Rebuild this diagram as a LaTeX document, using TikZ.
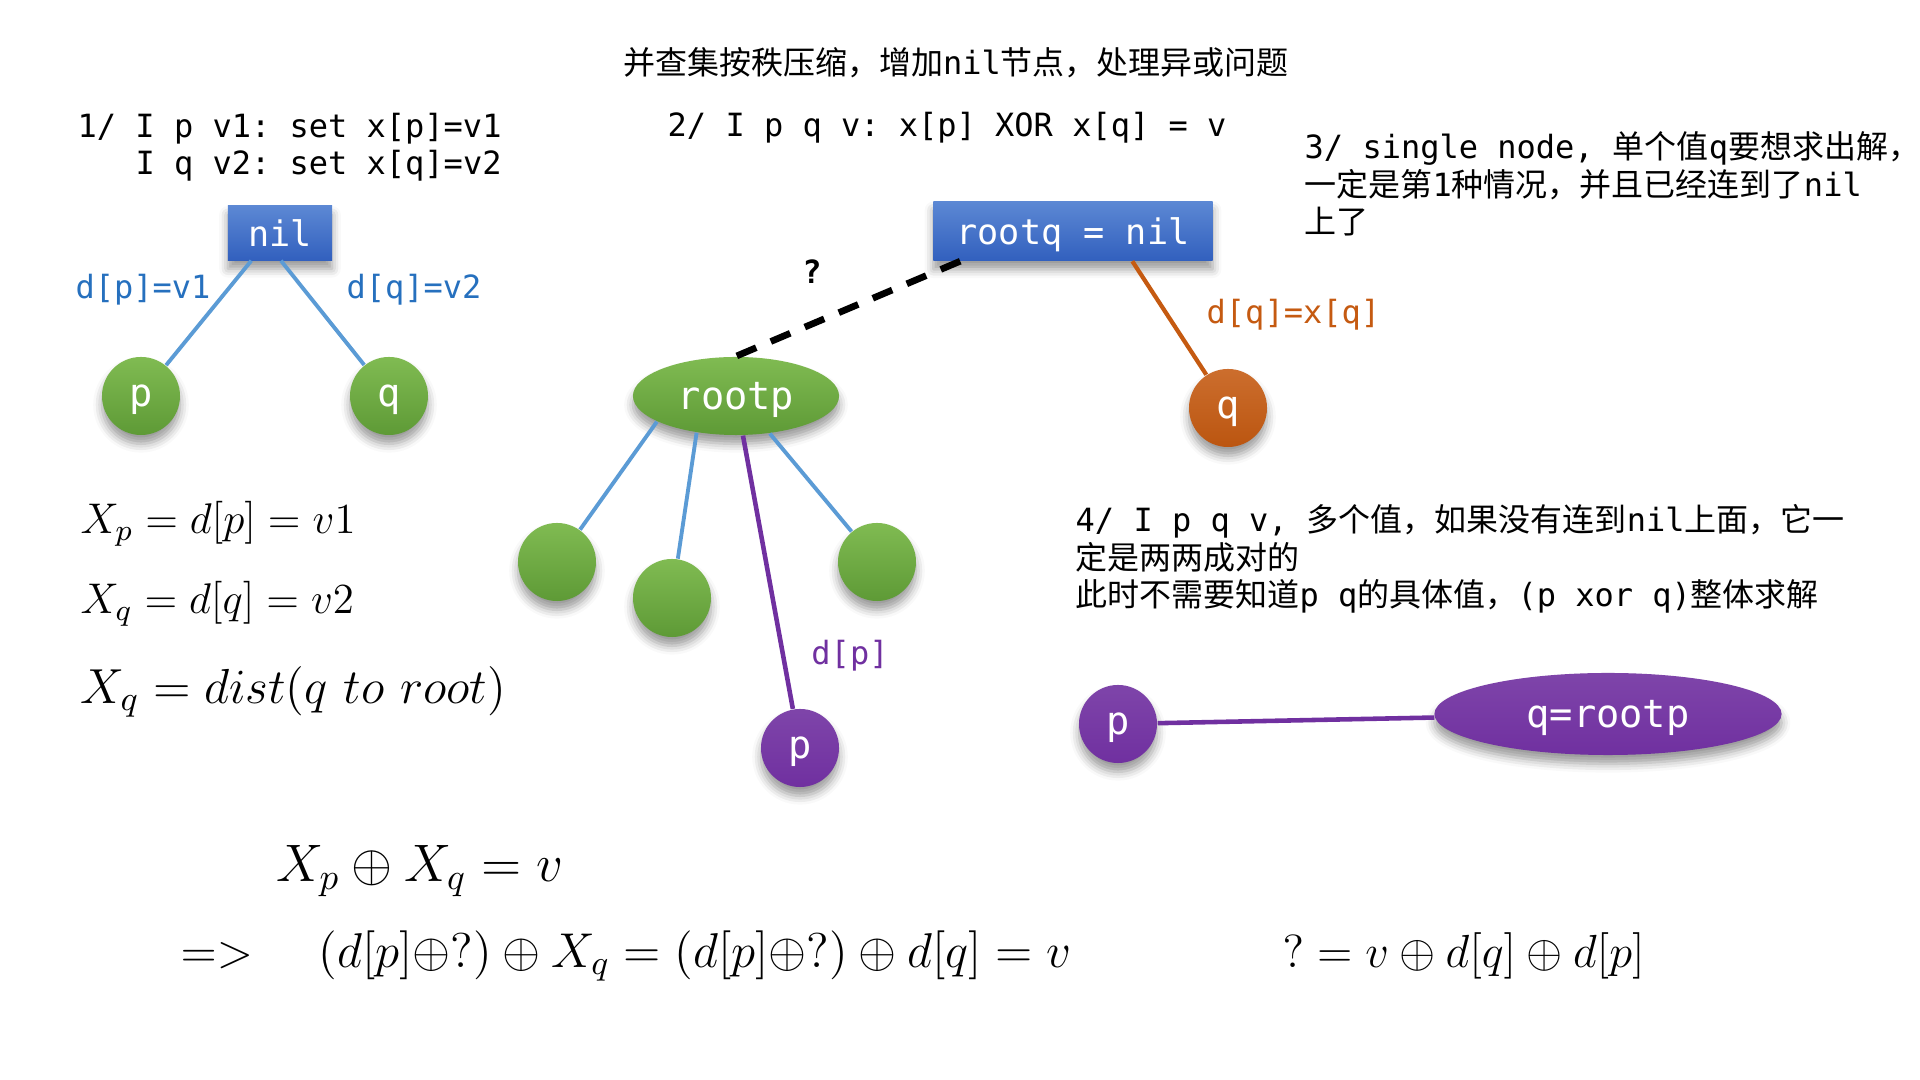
\RequirePackage{fix-cm}
\documentclass[tikz,border=0pt]{standalone}
\usepackage{fontspec}
\setmonofont{DejaVu Sans Mono}
\newfontfamily\cjk{Noto Sans CJK SC}
\usetikzlibrary{positioning,shapes.geometric,shadows.blur}
\definecolor{BoxTop}{RGB}{92,136,212}
\definecolor{BoxBot}{RGB}{50,96,190}
\definecolor{LeafTop}{RGB}{128,187,82}
\definecolor{LeafBot}{RGB}{94,154,54}
\definecolor{Rust}{RGB}{197,90,17}
\definecolor{Plum}{RGB}{112,48,160}
\definecolor{Sky}{RGB}{91,155,213}
\definecolor{Ink}{RGB}{38,112,190}

\begin{document}
\begin{tikzpicture}[x=0.01cm,y=-0.01cm,
 t/.style={anchor=base west,inner sep=0,align=left,font=\fontsize{9.1}{10.8}\selectfont\ttfamily},
 m/.style={anchor=west,inner sep=0},
 sh/.style={blur shadow={shadow xshift=0pt,shadow yshift=-2.5pt,shadow blur radius=2.5pt,shadow opacity=40}},
 bx/.style={sh,top color=BoxTop,bottom color=BoxBot,text=white,inner sep=0,text depth=0pt,font=\fontsize{10}{12}\selectfont\ttfamily},
 g/.style={circle,sh,top color=LeafTop,bottom color=LeafBot,minimum size=0.78cm,inner sep=0,text depth=0pt,text=white,font=\fontsize{11}{12}\selectfont\ttfamily},
 o/.style={g,top color=Rust!88!white,bottom color=Rust!95!black},
 pu/.style={g,top color=Plum!90!white,bottom color=Plum},
 lbl/.style={inner sep=0,font=\fontsize{9.1}{10.8}\selectfont\ttfamily},
 bl/.style={Sky,line width=1.1pt},
 pl/.style={Plum,line width=1.3pt}]
\useasboundingbox (0,0) rectangle (1920,1080);
\node[t,anchor=base] (title) at (956,75) {{\cjk 并查集按秩压缩，增加}nil{\cjk 节点，处理异或问题}};
\node[t] (s1) at (77,175) {1/ I p v1: set x[p]=v1\\\phantom{1/ }I q v2: set x[q]=v2};
\node[t] (s2) at (667,137) {2/ I p q v: x[p] XOR x[q] = v};
\node[t] (s3) at (1304,234) {3/ single node, {\cjk 单个值}q{\cjk 要想求出解，}\\{\cjk 一定是第}1{\cjk 种情况，并且已经连到了}nil\\{\cjk 上了}};
\node[t] (s4) at (1075,607) {4/ I p q v, {\cjk 多个值，如果没有连到}nil{\cjk 上面，它一}\\{\cjk 定是两两成对的}\\{\cjk 此时不需要知道}p q{\cjk 的具体值，}(p xor q){\cjk 整体求解}};

\node[bx,minimum width=1.04cm,minimum height=0.54cm] (nil) at (280,233) {nil};
\node[g] (p1) at (141,396) {p};
\node[g] (q1) at (389,396) {q};
\node[lbl,text=Ink] (l1) at (143,290) {d[p]=v1};
\node[lbl,text=Ink] (l2) at (414,290) {d[q]=v2};
\draw[bl] (nil.224) -- (p1);
\draw[bl] (nil.272) -- (q1);

\node[bx,minimum width=2.79cm,minimum height=0.59cm] (rootq) at (1073,231) {rootq = nil};
\node[g,ellipse,minimum width=2.06cm,minimum height=0.78cm] (rootp) at (736,396) {rootp};
\node[o] (qo) at (1228,408) {q};
\node[g] (c1) at (557,562) {};
\node[g] (c2) at (672,598) {};
\node[g] (c3) at (877,562) {};
\node[pu] (pp) at (800,748) {p};
\node[lbl,font=\fontsize{9.1}{10.8}\selectfont\ttfamily\bfseries] (qm) at (812,272) {?};
\node[lbl,text=Rust,anchor=west] (l3) at (1206,315) {d[q]=x[q]};
\node[lbl,text=Plum] (l4) at (850,656) {d[p]};
\draw[line width=1.9pt,dash pattern=on 6pt off 4.5pt] (rootq.195) -- (rootp.north);
\draw[Rust,line width=1.2pt] (rootq.-27) -- (qo);
\draw[bl] (rootp.198) -- (c1);
\draw[bl] (rootp.223) -- (c2);
\draw[bl] (rootp.312) -- (c3);
\draw[pl] (rootp.280) -- (pp);

\node[pu] (pb) at (1118,724) {p};
\node[pu,ellipse,minimum width=3.47cm,minimum height=0.82cm] (qr) at (1608,714) {q=rootp};
\draw[pl] (pb) -- (qr);

\node[m,font=\fontsize{12.2}{14}\selectfont] (xp) at (80,524) {$X_p=d[p]=v1$};
\node[m,font=\fontsize{12.2}{14}\selectfont] (xq) at (80,604) {$X_q=d[q]=v2$};
\node[m,font=\fontsize{14}{16}\selectfont] (xd) at (80,692) {$X_q=dist(q\ to\ root)$};
\node[m,font=\fontsize{15}{17}\selectfont] (xor) at (276,871) {$X_p\oplus X_q=v$};
\node[m,font=\fontsize{13.5}{16}\selectfont] (imp) at (180,956) {$=>$};
\node[m,font=\fontsize{13.9}{16}\selectfont] (chain) at (318,956) {$(d[p]{\oplus}?)\oplus X_q=(d[p]{\oplus}?)\oplus d[q]=v$};
\node[m,font=\fontsize{13.2}{16}\selectfont] (ans) at (1282,956) {$?=v\oplus d[q]\oplus d[p]$};
\end{tikzpicture}
\end{document}
